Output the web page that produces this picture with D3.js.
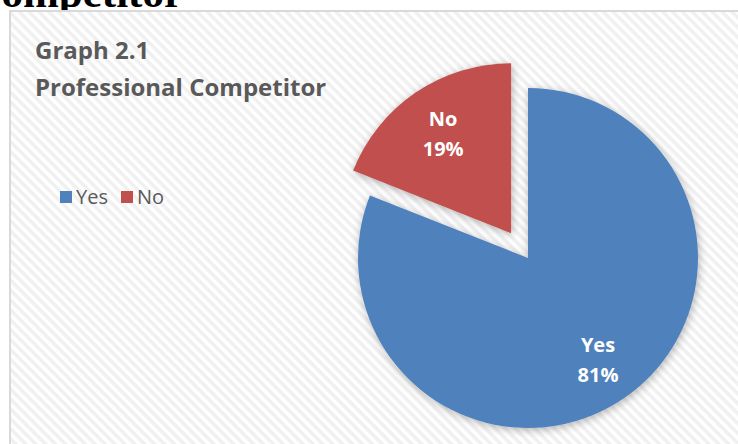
<!DOCTYPE html>
<html><head><meta charset="utf-8">
<script src="https://cdn.jsdelivr.net/npm/d3@7"></script>
<style>html,body{margin:0;padding:0;background:#fff;overflow:hidden}</style>
</head><body>
<script>
const categories = ["Yes", "No"];
const values = [81, 19];
const pctLabels = ["81%", "19%"];
const colors = ["#4f81bd", "#c0504d"];
const titleLines = ["Graph 2.1", "Professional Competitor"];

const W = 738, H = 444;
const svg = d3.select("body").append("svg").attr("width", W).attr("height", H);
const defs = svg.append("defs");
const pat = defs.append("pattern").attr("id", "hatch").attr("patternUnits", "userSpaceOnUse")
  .attr("width", 7).attr("height", 7).attr("patternTransform", "rotate(45)");
pat.append("rect").attr("width", 7).attr("height", 7).attr("fill", "#ffffff");
pat.append("rect").attr("width", 7).attr("height", 3.5).attr("fill", "#f0f0f0");
const f = defs.append("filter").attr("id", "shadow").attr("x", "-20%").attr("y", "-20%").attr("width", "140%").attr("height", "140%");
f.append("feDropShadow").attr("dx", 1).attr("dy", 2).attr("stdDeviation", 4).attr("flood-color", "#000").attr("flood-opacity", 0.3);

// document text cut at top
svg.append("text").attr("x", 183).attr("y", 7).attr("text-anchor", "end")
  .attr("font-family", "Liberation Serif").attr("font-weight", "bold").attr("font-size", 43)
  .attr("fill", "#000").text("Competitor");

// chart area
svg.append("rect").attr("x", 10).attr("y", 11).attr("width", W).attr("height", H)
  .attr("fill", "url(#hatch)").attr("stroke", "#d9d9d9").attr("stroke-width", 2);

// title
svg.append("g").selectAll("text").data(titleLines).join("text")
  .attr("x", 35).attr("y", (d, i) => 59 + i * 37)
  .attr("font-family", "Open Sans").attr("font-weight", "bold").attr("font-size", 24)
  .attr("fill", "#595959").text(d => d);

// legend
const lg = svg.append("g");
const lx = d3.scaleOrdinal().domain(categories).range([60, 121]);
lg.selectAll("rect").data(categories).join("rect")
  .attr("x", d => lx(d)).attr("y", 191).attr("width", 12).attr("height", 12)
  .attr("fill", (d, i) => colors[i]);
lg.selectAll("text").data(categories).join("text")
  .attr("x", d => lx(d) + 16).attr("y", 204)
  .attr("font-family", "Open Sans").attr("font-size", 20).attr("fill", "#595959").text(d => d);

// pie
const cx = 528, cy = 258, R = 170, explode = 30;
const pie = d3.pie().sort(null).value(d => d.v)(categories.map((c, i) => ({c, v: values[i], i})));
const arc = d3.arc().innerRadius(0).outerRadius(R);
const g = svg.append("g").attr("transform", `translate(${cx},${cy})`);
const slices = g.selectAll("g.s").data(pie).join("g").attr("class", "s")
  .attr("transform", d => {
    if (d.data.c !== "No") return null;
    const m = (d.startAngle + d.endAngle) / 2;
    return `translate(${Math.sin(m) * explode},${-Math.cos(m) * explode})`;
  });
slices.append("path").attr("d", arc).attr("fill", d => colors[d.data.i]).attr("filter", "url(#shadow)");

slices.each(function(d) {
  const [x, y] = d.data.c === "Yes" ? [70, 94] : [-68, -107];
  const t = d3.select(this).append("text").attr("text-anchor", "middle")
    .attr("font-family", "Open Sans").attr("font-weight", "bold").attr("font-size", 20).attr("fill", "#fff");
  t.append("tspan").attr("x", x).attr("y", y).text(d.data.c);
  t.append("tspan").attr("x", x).attr("y", y + 30).text(pctLabels[d.data.i]);
});
</script>
</body></html>
